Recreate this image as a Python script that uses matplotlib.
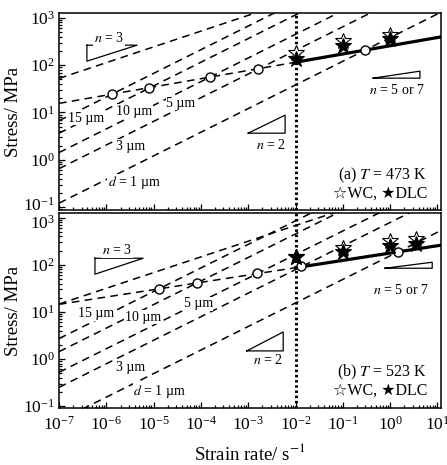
import numpy as np
import matplotlib.pyplot as plt
from matplotlib.ticker import LogLocator, NullFormatter, FixedLocator
from matplotlib.transforms import ScaledTranslation

plt.rcParams['font.family'] = ['Liberation Serif', 'DejaVu Sans']
plt.rcParams['mathtext.fontset'] = 'stix'
plt.rcParams['axes.unicode_minus'] = False

# axis ranges
rate_lim = (1e-7, 10 ** 1.076)
a_stress_lim = (10 ** -1.065, 10 ** 3.10)
b_stress_lim = (10 ** -1.04, 10 ** 3.10)
rate_ticks = [1e-7, 1e-6, 1e-5, 1e-4, 1e-3, 1e-2, 1e-1, 1e0, 1e1]
stress_ticks = [1e-1, 1e0, 1e1, 1e2, 1e3]
rate_cut = 1e-2  # vertical dotted line

grain_labels = ['15 µm', '10 µm', '5 µm', '3 µm', '$d$ = 1 µm']

# (a) T = 473 K
a_gbs_stress0 = [6.72, 3.65, 1.42, 0.649, 0.121]   # stress at 1e-7 s-1, n = 2 lines
a_n3_stress0 = 52.5                                # stress at 1e-7 s-1, n = 3 line
a_fit_stress = 115.6                               # stress at 1e-2 s-1, n = 5 or 7 line
a_fit_m = 0.174
a_circle_rate = [1.32e-6, 8.0e-6, 1.56e-4, 1.61e-3, 0.294]
a_circle_stress = [24.4, 32.7, 55.8, 82.4, 208]
a_star_rate = [1e-2, 1e-1, 1e0]
a_wc_stress = [180, 322, 431]
a_dlc_stress = [136, 252, 360]

# (b) T = 523 K
b_gbs_stress0 = [2.71, 1.43, 0.522, 0.250, 0.049]
b_n3_stress0 = 14.7
b_fit_stress = 86.7
b_fit_m = 0.1555
b_circle_rate = [1.30e-5, 8.28e-5, 1.53e-3, 1.31e-2, 1.47]
b_circle_stress = [30.4, 40.7, 66.1, 93.0, 184]
b_star_rate = [1e-2, 1e-1, 1e0, 3.5]
b_wc_stress = [145, 227, 315, 358]
b_dlc_stress = [145, 187, 250, 281]


def draw_panel(ax, ylim, gbs0, n30, fit0, fit_m, c_rate, c_stress, s_rate, wc, dlc):
    x = np.logspace(-7, 1.1, 200)
    dash = dict(color='black', lw=1.1, dashes=(5, 3.5))
    for s0 in gbs0:
        ax.plot(x, s0 * (x / 1e-7) ** 0.5, **dash)
    ax.plot(x, n30 * (x / 1e-7) ** (1 / 3), **dash)
    xl = x[x <= rate_cut]
    xr = np.logspace(-2, 1.1, 50)
    ax.plot(xl, fit0 * (xl / rate_cut) ** fit_m, **dash)
    ax.plot(xr, fit0 * (xr / rate_cut) ** fit_m, color='black', lw=2.3)
    ax.axvline(rate_cut, color='black', lw=2.2, ls=(0, (0.8, 0.9)))
    ax.plot(c_rate, c_stress, 'o', ms=6.5, mfc='white', mec='black', mew=1.0, zorder=5)
    ax.plot(s_rate, wc, '*', ms=12, mfc='white', mec='black', mew=0.8, zorder=6)
    ax.plot(s_rate, dlc, '*', ms=12, mfc='black', mec='black', mew=0.8, zorder=7)
    ax.set_xscale('log')
    ax.set_yscale('log')
    ax.set_xlim(rate_lim)
    ax.set_ylim(ylim)
    ax.xaxis.set_major_locator(FixedLocator(rate_ticks))
    ax.yaxis.set_major_locator(FixedLocator(stress_ticks))
    for axis in (ax.xaxis, ax.yaxis):
        axis.set_minor_locator(LogLocator(base=10, subs=np.arange(2, 10), numticks=20))
        axis.set_minor_formatter(NullFormatter())
    ax.tick_params(which='both', direction='in', top=False, right=False, width=0.9)
    ax.tick_params(which='major', length=4, labelsize=12.5)
    ax.tick_params(axis='y', which='major', pad=3)
    ax.tick_params(axis='x', which='major', pad=5.5)
    ax.tick_params(which='minor', length=2.2)
    for sp in ax.spines.values():
        sp.set_linewidth(1.1)
    ax.set_ylabel('Stress/ MPa', fontsize=13.5, labelpad=1)


def slope_triangle(ax, x0, x1, y0, y1, corner):
    # right angle at top left or bottom right (log-space values)
    if corner == 'topleft':
        pts = [(x0, y1), (x1, y1), (x0, y0), (x0, y1)]
    else:
        pts = [(x0, y0), (x1, y1), (x1, y0), (x0, y0)]
    ax.plot([10 ** p[0] for p in pts], [10 ** p[1] for p in pts],
            color='black', lw=0.9, zorder=4)


fig = plt.figure(figsize=(4.47, 4.65), dpi=100)
ax1 = fig.add_axes([0.132, 0.548, 0.8546, 0.4237])
ax2 = fig.add_axes([0.132, 0.1226, 0.8546, 0.4194])

draw_panel(ax1, a_stress_lim, a_gbs_stress0, a_n3_stress0, a_fit_stress, a_fit_m,
           a_circle_rate, a_circle_stress, a_star_rate, a_wc_stress, a_dlc_stress)
draw_panel(ax2, b_stress_lim, b_gbs_stress0, b_n3_stress0, b_fit_stress, b_fit_m,
           b_circle_rate, b_circle_stress, b_star_rate, b_wc_stress, b_dlc_stress)
ax1.tick_params(labelbottom=False)
ax2.set_xlabel('Strain rate/ s$^{-1}$', fontsize=13.5, labelpad=7)

box = dict(facecolor='white', edgecolor='none', pad=0.5)
lab = dict(fontsize=10, ha='center', va='center', bbox=box, zorder=4.5)

# grain size labels (log positions)
a_lab_pos = [(-6.43, 0.88), (-5.41, 1.03), (-4.42, 1.20), (-5.48, 0.29), (-5.41, -0.49)]
b_lab_pos = [(-6.22, 0.96), (-5.22, 0.89), (-4.06, 1.17), (-5.48, -0.19), (-4.87, -0.69)]
for ax, pos in [(ax1, a_lab_pos), (ax2, b_lab_pos)]:
    for name, (lx, ly) in zip(grain_labels, pos):
        ax.text(10 ** lx, 10 ** ly, name, **lab)

# slope triangles and their labels
slope_triangle(ax1, -6.41, -5.35, 2.085, 2.423, 'topleft')
ax1.text(10 ** -5.94, 10 ** 2.57, '$n$ = 3', **lab)
slope_triangle(ax1, -3.00, -2.22, 0.563, 0.944, 'bottomright')
ax1.text(10 ** -2.52, 10 ** 0.31, '$n$ = 2', **lab)
slope_triangle(ax1, -0.36, 0.63, 1.726, 1.874, 'bottomright')
ax1.text(10 ** 0.15, 10 ** 1.47, '$n$ = 5 or 7', **lab)

slope_triangle(ax2, -6.24, -5.22, 1.800, 2.139, 'topleft')
ax2.text(10 ** -5.77, 10 ** 2.31, '$n$ = 3', **lab)
slope_triangle(ax2, -3.03, -2.26, 0.172, 0.574, 'bottomright')
ax2.text(10 ** -2.58, 10 ** -0.02, '$n$ = 2', **lab)
slope_triangle(ax2, -0.11, 0.89, 1.927, 2.054, 'bottomright')
ax2.text(10 ** 0.23, 10 ** 1.46, '$n$ = 5 or 7', **lab)

for ax, title, yt in [(ax1, '(a) $T$ = 473 K', 0.178), (ax2, '(b) $T$ = 523 K', 0.18)]:
    ax.text(0.963, yt, title, transform=ax.transAxes, fontsize=11.5, ha='right', va='center')
    ax.text(0.965, yt - 0.093, '☆WC, ★DLC', transform=ax.transAxes, fontsize=11.5,
            ha='right', va='center')

# keep the y tick labels at the panel joint apart, as in the original figure
fig.canvas.draw()
for ax, loc, dy in [(ax1, 1e-1, 3.5), (ax2, 1e3, -4.5)]:
    for tick in ax.yaxis.get_major_ticks():
        if np.isclose(tick.get_loc(), loc):
            lbl = tick.label1
            lbl.set_transform(lbl.get_transform() + ScaledTranslation(0, dy / 100, fig.dpi_scale_trans))

fig.savefig('out.png', dpi=100)
